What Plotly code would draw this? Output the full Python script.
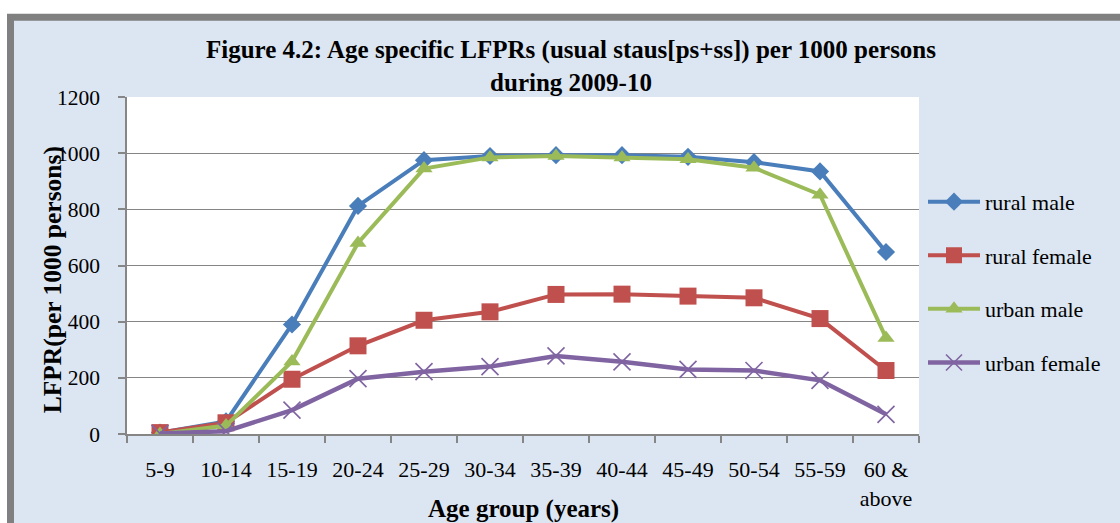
import plotly.graph_objects as go

age_groups = ["5-9", "10-14", "15-19", "20-24", "25-29", "30-34", "35-39",
              "40-44", "45-49", "50-54", "55-59", "60 &<br>above"]
rural_male = [5, 45, 390, 812, 975, 990, 993, 993, 987, 968, 935, 648]
rural_female = [5, 40, 195, 314, 405, 435, 497, 498, 491, 485, 411, 226]
urban_male = [0, 30, 258, 680, 945, 985, 990, 985, 978, 948, 852, 342]
urban_female = [2, 10, 85, 197, 222, 240, 278, 257, 230, 226, 191, 70]

series_names = ["rural male", "rural female", "urban male", "urban female"]
series_values = [rural_male, rural_female, urban_male, urban_female]
colors = ["#4A7EBB", "#C0504D", "#9BBB59", "#8064A2"]
symbols = ["diamond", "square", "triangle-up", "x-thin"]
sizes = [14, 17, 15, 17]

W, H = 1120, 523
L, R, T, B = 127, 201, 97, 86
PW, PH = W - L - R, H - T - B


def px(x):
    return (x - L) / PW


def py(y):
    return (H - B - y) / PH


FONT = "Liberation Serif, Times New Roman, serif"

fig = go.Figure()
for i, (name, vals) in enumerate(zip(series_names, series_values)):
    marker = dict(symbol=symbols[i], size=sizes[i], color=colors[i])
    if symbols[i] == "x-thin":
        marker["line"] = dict(color=colors[i], width=1.6)
    fig.add_trace(go.Scatter(
        x=age_groups, y=vals, name=name, mode="lines+markers",
        line=dict(color=colors[i], width=4.5 if i == 3 else 4),
        marker=marker, legendgroup=name,
    ))

shapes = [
    dict(type="rect", xref="paper", yref="paper", layer="below",
         x0=px(7), x1=px(W + 10), y0=py(H + 10), y1=py(13),
         fillcolor="#808080", line=dict(width=0)),
    dict(type="rect", xref="paper", yref="paper", layer="below",
         x0=px(14), x1=px(W + 10), y0=py(H + 10), y1=py(20),
         fillcolor="#DCE6F2", line=dict(width=0)),
    dict(type="rect", xref="paper", yref="paper", layer="below",
         x0=0, x1=1, y0=0, y1=1,
         fillcolor="white", line=dict(width=0)),
]

annotations = [
    dict(text="<b>Figure 4.2: Age specific LFPRs (usual staus[ps+ss]) per 1000 persons<br>during 2009-10</b>",
         xref="paper", yref="paper", x=px(571), y=py(66), xanchor="center", yanchor="middle",
         showarrow=False, font=dict(family=FONT, size=25, color="black")),
    dict(text="<b>LFPR(per 1000 persons)</b>", textangle=-90,
         xref="paper", yref="paper", x=px(52), y=py(282), xanchor="center", yanchor="middle",
         showarrow=False, font=dict(family=FONT, size=25.5, color="black")),
    dict(text="<b>Age group (years)</b>",
         xref="paper", yref="paper", x=px(523), y=py(513), xanchor="center", yanchor="middle",
         showarrow=False, font=dict(family=FONT, size=25, color="black")),
]

fig.update_layout(
    width=W, height=H,
    margin=dict(l=L, r=R, t=T, b=B, pad=0),
    paper_bgcolor="white", plot_bgcolor="white",
    font=dict(family=FONT, size=22, color="black"),
    shapes=shapes, annotations=annotations,
    showlegend=True,
    legend=dict(x=px(923), y=py(284), xanchor="left", yanchor="middle",
                bgcolor="rgba(0,0,0,0)", traceorder="grouped", tracegroupgap=22,
                itemwidth=52,
                font=dict(family=FONT, size=22, color="black")),
    xaxis=dict(type="category", range=[-0.5, 11.5], showgrid=False,
               showline=True, linecolor="#868686", linewidth=1.5,
               ticks="outside", ticklen=7, tickcolor="#868686", tickwidth=1.5,
               tickson="boundaries", ticklabelstandoff=15,
               tickfont=dict(family=FONT, size=22, color="black"), fixedrange=True),
    yaxis=dict(range=[0, 1200], dtick=200, showgrid=True, gridcolor="#868686", gridwidth=1.3,
               showline=True, linecolor="#868686", linewidth=1.5, zeroline=False,
               ticks="outside", ticklen=7, tickcolor="#868686", tickwidth=1.5,
               ticklabelstandoff=14,
               tickfont=dict(family=FONT, size=21.5, color="black"), fixedrange=True),
)

fig.write_html("out.html", config={"displayModeBar": False},
               post_script="document.body.style.margin='0';document.body.style.overflow='hidden';")
